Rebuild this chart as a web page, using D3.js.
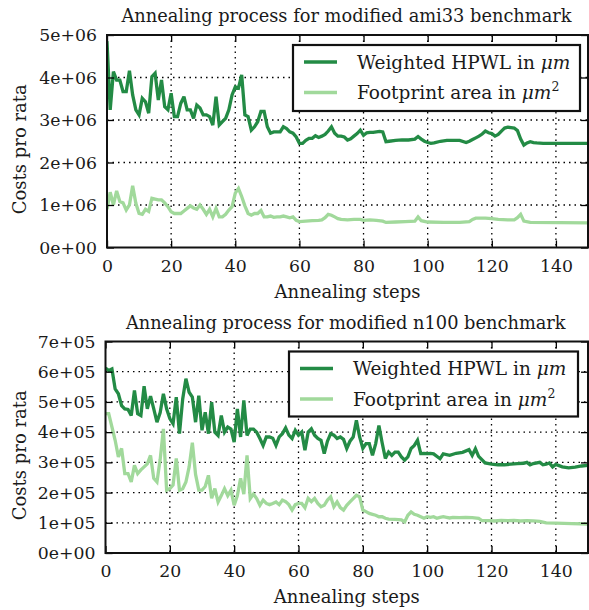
<!DOCTYPE html>
<html><head><meta charset="utf-8">
<script src="https://cdn.jsdelivr.net/npm/d3@7"></script>
<style>
body{margin:0;background:#fff;}
svg{display:block;}
text{font-family:"DejaVu Serif",serif;fill:#1a1a1a;}
</style></head>
<body><svg id="c" width="589" height="610"></svg>
<script>
// ---------- DATA ----------
const xTicks = [0, 20, 40, 60, 80, 100, 120, 140];

// ami33
const amiTitle = "Annealing process for modified ami33 benchmark";
const amiYTicks = [0, 1e6, 2e6, 3e6, 4e6, 5e6];
const amiYTickLabels = ["0e+00", "1e+06", "2e+06", "3e+06", "4e+06", "5e+06"];
const amiHpwlSteps = [0,1,2,3,4,5,6,7,8,9,10,11,12,13,14,15,16,17,18,19,20,21,22,23,24,25,26,27,28,29,30,31,32,33,34,35,36,37,38,39,40,41,42,43,44,45,46,47,48,49,50,51,52,53,54,55,56,57,58,59,60,61,62,63,64,65,66,67,68,69,70,71,72,73,74,75,76,77,78,79,80,81,82,83,84,85,86,87,88,90,92,94,96,97,98,99,100,101,102,104,106,108,110,112,113,114,115,116,117,118,119,120,121,122,123,124,125,126,127,128,129,130,131,132,133,134,136,150];
const amiHpwl = [4.85,3.24,4.14,3.94,3.94,3.67,3.67,4.16,3.59,3.24,3.12,3.51,3.43,3.16,4.02,4.10,3.47,3.94,3.31,3.24,3.63,3.08,3.08,3.39,3.55,3.24,3.24,3.04,3.35,3.28,3.12,3.12,3.08,2.88,3.55,2.88,2.96,3.04,3.24,3.59,3.78,3.75,4.06,3.12,3.08,2.76,2.84,2.96,3.20,3.20,2.84,2.69,2.72,2.72,2.72,2.84,2.80,2.72,2.69,2.60,2.45,2.45,2.52,2.57,2.57,2.63,2.59,2.62,2.66,2.74,2.84,2.69,2.62,2.62,2.60,2.53,2.56,2.62,2.68,2.76,2.64,2.70,2.71,2.71,2.72,2.73,2.72,2.49,2.50,2.52,2.53,2.53,2.55,2.61,2.55,2.50,2.47,2.45,2.46,2.50,2.52,2.52,2.52,2.47,2.50,2.54,2.58,2.62,2.67,2.74,2.70,2.68,2.62,2.66,2.74,2.81,2.83,2.82,2.81,2.75,2.55,2.41,2.46,2.49,2.47,2.46,2.45,2.45];
const amiAreaSteps = [0,1,2,3,4,5,6,7,8,9,10,11,12,13,14,15,16,17,18,19,20,21,22,23,24,25,26,27,28,29,30,31,32,33,34,35,36,37,38,39,40,41,42,43,44,45,46,47,48,49,50,51,52,53,54,55,56,57,58,59,60,62,64,66,67,68,69,70,71,72,73,75,77,79,80,82,84,86,87,90,93,96,97,98,100,105,110,113,114,115,118,120,122,125,127,128,129,130,132,150];
const amiArea = [0.90,1.30,1.00,1.33,1.08,1.05,0.88,1.00,1.45,1.04,0.80,0.78,0.90,0.85,1.16,1.14,1.12,1.12,1.05,0.96,0.84,0.80,0.80,0.80,0.86,0.92,0.98,0.93,0.90,1.00,0.90,0.78,0.90,0.72,0.92,0.72,0.72,0.78,0.88,0.96,1.28,1.39,1.20,0.98,0.80,0.76,0.80,0.80,0.87,0.72,0.72,0.74,0.71,0.72,0.72,0.74,0.72,0.70,0.72,0.64,0.61,0.62,0.63,0.64,0.65,0.70,0.78,0.76,0.72,0.68,0.66,0.65,0.66,0.66,0.64,0.65,0.64,0.62,0.59,0.60,0.61,0.62,0.72,0.63,0.60,0.59,0.59,0.61,0.66,0.69,0.69,0.68,0.66,0.65,0.65,0.70,0.78,0.62,0.59,0.58];

// n100
const nTitle = "Annealing process for modified n100 benchmark";
const nYTicks = [0, 1e5, 2e5, 3e5, 4e5, 5e5, 6e5, 7e5];
const nYTickLabels = ["0e+00", "1e+05", "2e+05", "3e+05", "4e+05", "5e+05", "6e+05", "7e+05"];
const nHpwlSteps = [0,1,2,3,4,5,6,7,8,9,10,11,12,13,14,15,16,17,18,19,20,21,22,23,24,25,26,27,28,29,30,31,32,33,34,35,36,37,38,39,40,41,42,43,44,45,46,47,48,49,50,51,52,53,54,55,56,57,58,59,60,61,62,63,64,65,66,67,68,69,70,71,72,73,74,75,76,77,78,79,80,81,82,83,84,85,86,87,88,89,90,91,92,93,94,95,96,97,98,99,100,101,102,104,105,107,109,111,113,114,115,116,118,120,122,124,126,128,130,131,132,133,135,136,137,138,139,140,142,144,146,148,150];
const nHpwl = [6.12,6.04,6.09,5.43,5.27,4.88,4.77,4.75,4.55,5.38,4.61,4.55,5.52,4.77,5.19,4.77,4.33,4.65,5.27,4.77,4.45,4.28,5.16,3.95,5.10,5.77,5.32,5.16,4.33,5.21,4.06,4.66,3.95,4.99,4.00,3.89,4.55,4.00,4.17,4.10,3.67,4.77,3.84,5.05,3.89,4.10,4.10,4.00,3.79,3.56,3.84,3.84,3.80,3.56,3.84,3.95,4.14,3.90,3.79,4.06,3.90,4.00,3.40,4.00,4.11,3.90,3.79,3.73,3.29,3.70,3.95,3.90,3.79,3.84,3.76,3.46,3.70,3.84,4.39,3.84,3.46,3.62,3.62,3.23,3.62,4.22,3.65,3.13,3.34,3.23,3.34,3.34,3.18,3.07,3.18,3.46,3.56,3.73,3.29,3.30,3.29,3.30,3.28,3.12,3.28,3.23,3.30,3.33,3.42,3.23,3.45,3.20,2.98,2.94,2.92,2.92,2.94,2.96,2.97,3.00,2.92,2.96,3.00,2.92,2.94,2.98,2.85,2.93,2.85,2.82,2.84,2.88,2.90];
const nAreaSteps = [0,1,2,3,4,5,6,7,8,9,10,11,12,13,14,15,16,17,18,19,20,21,22,23,24,25,26,27,28,29,30,31,32,33,34,35,36,37,38,39,40,41,42,43,44,45,46,47,48,49,50,51,52,53,54,55,56,57,58,59,60,61,62,63,64,65,66,67,68,69,70,71,72,73,74,75,76,77,78,79,80,81,82,83,84,85,86,87,88,90,92,93,94,95,96,97,98,99,100,101,102,103,104,105,106,107,108,110,112,114,116,117,119,121,123,125,127,129,131,133,135,137,140,145,150];
const nArea = [4.61,4.61,4.17,3.73,3.18,3.46,2.63,2.63,2.35,2.90,2.63,2.75,2.85,2.95,3.23,2.47,2.35,3.10,4.11,2.08,2.13,2.25,3.13,2.08,2.13,2.35,2.85,3.65,2.60,2.08,2.08,2.20,2.57,1.81,2.13,1.69,1.90,2.13,1.90,2.08,1.58,1.90,2.47,1.95,3.23,1.80,1.95,1.80,1.58,1.75,1.64,1.60,1.64,1.69,1.60,1.75,1.70,1.60,1.42,1.60,1.64,1.64,1.50,1.81,1.70,1.81,1.64,1.53,1.58,1.75,1.86,1.53,1.69,1.50,1.42,1.58,1.69,1.80,1.91,1.86,1.42,1.37,1.31,1.28,1.25,1.20,1.20,1.15,1.12,1.11,1.10,1.03,1.25,1.36,1.28,1.25,1.20,1.15,1.20,1.18,1.20,1.15,1.18,1.20,1.18,1.16,1.18,1.17,1.18,1.17,1.15,1.07,1.07,1.06,1.08,1.07,1.08,1.06,1.07,1.06,1.05,1.00,0.99,0.97,0.96];

const legendLabels = [["Weighted HPWL in ", "μm", ""], ["Footprint area in ", "μm", "2"]];
const colors = ["#238b45", "#a1d99b"];

// ---------- DRAW ----------
const svg = d3.select("#c");

function panel(cfg) {
  const x = d3.scaleLinear().domain([0, 150]).range([cfg.left, cfg.right]);
  const y = d3.scaleLinear().domain([0, cfg.yMax]).range([cfg.bottom, cfg.top]);
  const g = svg.append("g");
  const clipId = "clip" + cfg.id;
  svg.append("clipPath").attr("id", clipId).append("rect")
    .attr("x", cfg.left).attr("y", cfg.top)
    .attr("width", cfg.right - cfg.left).attr("height", cfg.bottom - cfg.top);

  // grid
  g.selectAll(".gx").data(xTicks.filter(d => d > 0)).enter().append("line")
    .attr("x1", d => x(d)).attr("x2", d => x(d)).attr("y1", cfg.top).attr("y2", cfg.bottom)
    .attr("stroke", "#000").attr("stroke-width", 1.3).attr("stroke-dasharray", "1.5,4");
  g.selectAll(".gy").data(cfg.yTicks.filter(d => d > 0 && d < cfg.yMax)).enter().append("line")
    .attr("y1", d => y(d)).attr("y2", d => y(d)).attr("x1", cfg.left).attr("x2", cfg.right)
    .attr("stroke", "#000").attr("stroke-width", 1.3).attr("stroke-dasharray", "1.5,4");

  // lines
  const series = [[cfg.s1x, cfg.s1y], [cfg.s2x, cfg.s2y]];
  series.forEach((s, i) => {
    const pts = s[0].map((v, k) => [v, s[1][k] * cfg.unit]);
    g.append("path").datum(pts)
      .attr("clip-path", `url(#${clipId})`)
      .attr("d", d3.line().x(d => x(d[0])).y(d => y(d[1])))
      .attr("fill", "none").attr("stroke", colors[i]).attr("stroke-width", 3.3)
      .attr("stroke-linejoin", "miter").attr("stroke-miterlimit", 3);
  });

  // ticks on all sides (inward)
  const tl = 7;
  const axL = d3.axisLeft(y).tickValues(cfg.yTicks).tickSize(-tl).tickFormat((d, i) => cfg.yLabels[i]).tickPadding(10);
  g.append("g").attr("transform", `translate(${cfg.left},0)`).call(axL);
  const axR = d3.axisRight(y).tickValues(cfg.yTicks).tickSize(-tl).tickFormat("");
  g.append("g").attr("transform", `translate(${cfg.right},0)`).call(axR);
  const axB = d3.axisBottom(x).tickValues(xTicks).tickSize(-tl).tickPadding(12);
  g.append("g").attr("transform", `translate(0,${cfg.bottom})`).call(axB);
  const axT = d3.axisTop(x).tickValues(xTicks).tickSize(-tl).tickFormat("");
  g.append("g").attr("transform", `translate(0,${cfg.top})`).call(axT);
  g.selectAll(".domain").remove();
  g.selectAll(".tick line").attr("stroke", "#000").attr("stroke-width", 1.3);
  g.selectAll(".tick text").style("font-family", '"DejaVu Serif",serif').style("font-size", "17.3px").attr("fill", "#1a1a1a");

  // frame
  g.append("rect").attr("x", cfg.left).attr("y", cfg.top)
    .attr("width", cfg.right - cfg.left).attr("height", cfg.bottom - cfg.top)
    .attr("fill", "none").attr("stroke", "#111").attr("stroke-width", 2);

  // title & labels
  g.append("text").attr("x", (cfg.left + cfg.right) / 2 - 1).attr("y", cfg.top - 13)
    .attr("text-anchor", "middle").style("font-size", "17.8px").text(cfg.title);
  g.append("text").attr("x", (cfg.left + cfg.right) / 2).attr("y", cfg.bottom + 50)
    .attr("text-anchor", "middle").style("font-size", "18px").text("Annealing steps");
  g.append("text").attr("transform", `translate(26,${(cfg.top + cfg.bottom) / 2 + 8}) rotate(-90)`)
    .attr("text-anchor", "middle").style("font-size", "18px").text("Costs pro rata");

  // legend
  const lg = g.append("g");
  lg.append("rect").attr("x", cfg.lx).attr("y", cfg.ly).attr("width", cfg.lw).attr("height", cfg.lh)
    .attr("fill", "#fff").attr("stroke", "#111").attr("stroke-width", 2.2);
  legendLabels.forEach((lab, i) => {
    const yy = cfg.ly + 17 + i * 30.5;
    lg.append("line").attr("x1", cfg.lx + 11).attr("x2", cfg.lx + 44).attr("y1", yy).attr("y2", yy)
      .attr("stroke", colors[i]).attr("stroke-width", 3.3);
    const t = lg.append("text").attr("x", cfg.lx + 64).attr("y", yy + 6.5).style("font-size", "18.5px");
    t.append("tspan").text(lab[0]);
    t.append("tspan").style("font-style", "italic").text(lab[1]);
    if (lab[2]) t.append("tspan").attr("dy", -8).style("font-size", "12.5px").text(lab[2]);
  });
}

panel({id: 1, left: 107, right: 588, top: 35, bottom: 247.5, yMax: 5e6, unit: 1e6,
  yTicks: amiYTicks, yLabels: amiYTickLabels, title: amiTitle,
  s1x: amiHpwlSteps, s1y: amiHpwl, s2x: amiAreaSteps, s2y: amiArea,
  lx: 293, ly: 45, lw: 287, lh: 66});
panel({id: 2, left: 105.5, right: 588, top: 341.5, bottom: 553, yMax: 7e5, unit: 1e5,
  yTicks: nYTicks, yLabels: nYTickLabels, title: nTitle,
  s1x: nHpwlSteps, s1y: nHpwl, s2x: nAreaSteps, s2y: nArea,
  lx: 289, ly: 351.5, lw: 289, lh: 65});
</script></body></html>
